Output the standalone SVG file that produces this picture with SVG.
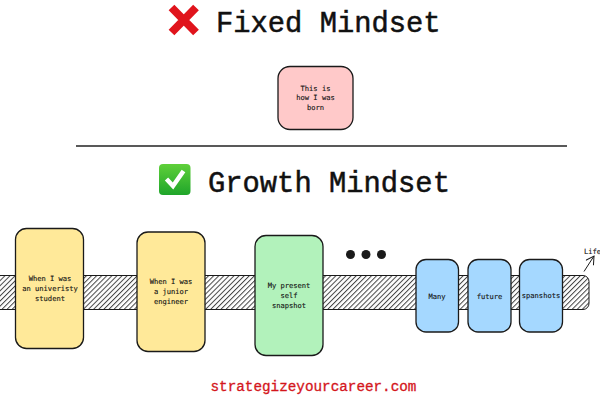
<svg xmlns="http://www.w3.org/2000/svg" width="600" height="400" viewBox="0 0 600 400">
<style>
text{font-family:"DejaVu Sans Mono","Liberation Mono",monospace;fill:#111;text-anchor:middle}
.h{font-size:28.8px;text-anchor:start;font-family:"Liberation Mono","DejaVu Sans Mono",monospace;stroke:#111;stroke-width:.5px}
.s{font-size:7.1px;stroke:#111;stroke-width:.12px}
.n{stroke:#1a1a1a;stroke-width:1.3}
.y{fill:#ffe999}.g{fill:#b2f2bb}.b{fill:#a5d8ff}.p{fill:#ffc9c9}
</style>
<defs>
<pattern id="hatch" width="3.600" height="3.600" patternUnits="userSpaceOnUse" patternTransform="rotate(45)">
<rect width="3.600" height="3.600" fill="#fff"/><rect width="1" height="3.600" fill="#444"/>
</pattern>
<linearGradient id="gr" x1="0" y1="0" x2="0" y2="1"><stop offset="0" stop-color="#5fd03a"/><stop offset="1" stop-color="#1fa52a"/></linearGradient>
<marker id="arr" markerWidth="12" markerHeight="12" refX="9" refY="5" orient="auto" markerUnits="userSpaceOnUse"><path d="M1 .5L9 5L1 9.500" fill="none" stroke="#1a1a1a"/></marker>
</defs>
<rect width="600" height="400" fill="#fff"/>
<g id="title-fixed">
<path d="M171.500 7.500L196 32.500M196 7.500L171.500 32.500" fill="none" stroke="#e0141c" stroke-width="8"/>
<text class="h" x="216" y="32">Fixed Mindset</text>
</g>
<g id="node-born">
<rect class="n p" x="278" y="66.500" width="75" height="63" rx="12"/>
<text class="s" x="315.500" y="90.500">This is</text>
<text class="s" x="315.500" y="100">how I was</text>
<text class="s" x="315.500" y="110">born</text>
</g>
<g id="connectors">
<path id="divider" d="M76 146H567" stroke="#222" stroke-width="1.300" fill="none"/>
<path id="life-arrow" d="M584 271.500L594 256" stroke="#1a1a1a" fill="none" marker-end="url(#arr)"/>
</g>
<g id="title-growth">
<rect x="159" y="164" width="31.500" height="31" rx="4" fill="url(#gr)"/>
<path d="M166.500 179L173 186L183.500 171" fill="none" stroke="#fff" stroke-width="4.500"/>
<text class="h" x="208" y="192">Growth Mindset</text>
</g>
<g id="timeline">
<rect x="-8" y="275.500" width="597" height="34" rx="6" fill="url(#hatch)" stroke="#1a1a1a" stroke-width="1"/>
</g>
<g id="node-university">
<rect class="n y" x="15.500" y="228.500" width="68" height="120" rx="11"/>
<text class="s" x="50" y="281">When I was</text>
<text class="s" x="50" y="291">an univeristy</text>
<text class="s" x="50" y="301">student</text>
</g>
<g id="node-junior">
<rect class="n y" x="137" y="232" width="68" height="119.500" rx="11"/>
<text class="s" x="171" y="284">When I was</text>
<text class="s" x="171" y="294">a junior</text>
<text class="s" x="171" y="304">engineer</text>
</g>
<g id="node-present">
<rect class="n g" x="255" y="235.500" width="68" height="120" rx="11"/>
<text class="s" x="289" y="288">My present</text>
<text class="s" x="289" y="298">self</text>
<text class="s" x="289" y="307.500">snapshot</text>
</g>
<g id="dots" fill="#1a1a1a">
<circle cx="350.500" cy="254.500" r="4.500"/><circle cx="366" cy="254.500" r="4.500"/><circle cx="381.500" cy="254.500" r="4.500"/>
</g>
<g id="node-many">
<rect class="n b" x="416" y="259.500" width="42.500" height="72.500" rx="10"/>
<text class="s" x="437" y="298.500">Many</text>
</g>
<g id="node-future">
<rect class="n b" x="468" y="259.500" width="43" height="72.500" rx="10"/>
<text class="s" x="489.500" y="298.500">future</text>
</g>
<g id="node-snapshots">
<rect class="n b" x="519.500" y="259.500" width="43" height="72.500" rx="10"/>
<text class="s" x="541" y="298">spanshots</text>
</g>
<text class="s" x="584" y="253.500" style="text-anchor:start">Life</text>
<text x="313.500" y="391" style="font-size:14.300px;fill:#d4161c;font-family:'Liberation Mono','DejaVu Sans Mono',monospace;stroke:#d4161c;stroke-width:.3px">strategizeyourcareer.com</text>
</svg>
